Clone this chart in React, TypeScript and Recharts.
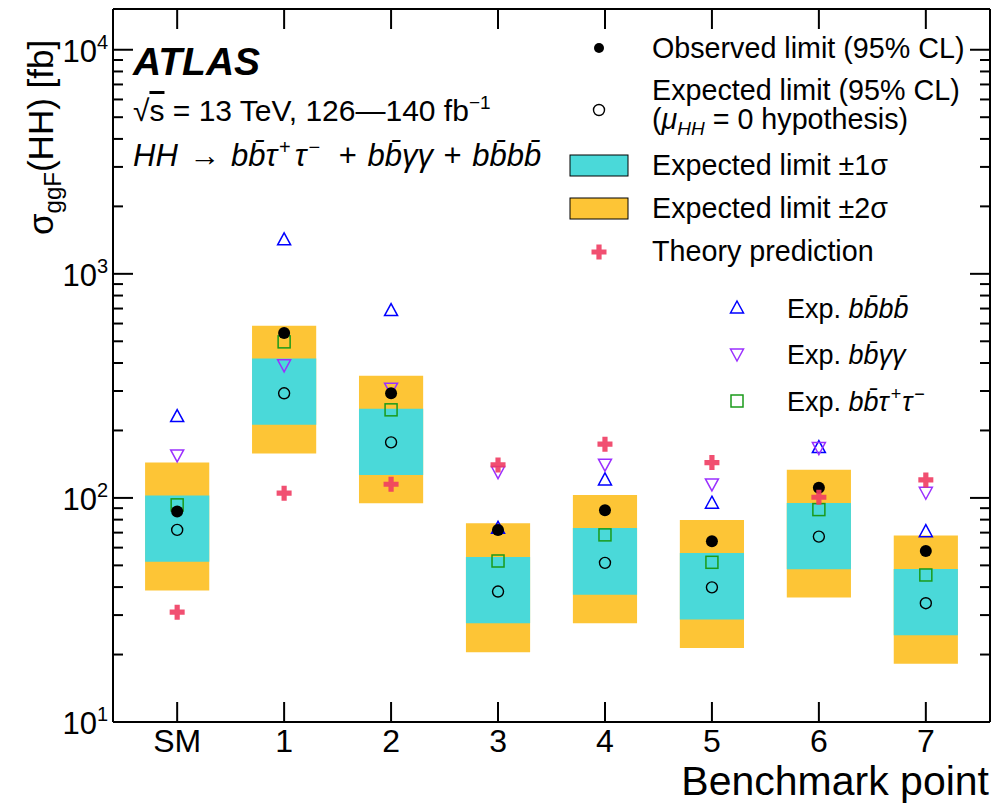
import React from 'react';
import { ComposedChart, Scatter, XAxis, YAxis, ReferenceArea } from 'recharts';

const categories = ['SM', '1', '2', '3', '4', '5', '6', '7'];
const xPositions = [0, 1, 2, 3, 4, 5, 6, 7];
const observed = [87, 544, 293, 72, 88, 64, 111, 58];
const expected = [72, 293, 177, 38.2, 51.3, 39.9, 67.2, 33.9];
const band1Lo = [51.9, 212, 126.6, 27.6, 37.0, 28.7, 48.0, 24.4];
const band1Hi = [102.4, 419, 249.7, 54.5, 73.5, 56.8, 95.0, 48.2];
const band2Lo = [38.6, 157.7, 94.7, 20.5, 27.6, 21.4, 35.9, 18.2];
const band2Hi = [143.8, 586, 350.5, 77.1, 103.1, 79.8, 133.4, 67.9];
const expBBBB = [230.6, 1418, 685.8, 73.2, 120.3, 94.7, 167.7, 70.7];
const expBBYY = [155.6, 392.5, 308.8, 131.1, 141.4, 115.5, 167.7, 106.0];
const expBBTT = [93.1, 497, 247.2, 52.3, 68.4, 51.6, 88.7, 45.3];
const theory = [30.9, 105, 115.1, 140.4, 173.7, 143.8, 100.7, 120.3];

const yTicks = [
  10, 20, 30, 40, 50, 60, 70, 80, 90,
  100, 200, 300, 400, 500, 600, 700, 800, 900,
  1000, 2000, 3000, 4000, 5000, 6000, 7000, 8000, 9000,
  10000,
];
const yMajorTicks = [10, 100, 1000, 10000];
const yExponents = ['1', '2', '3', '4'];

const FONT = '"Liberation Sans", Arial, Helvetica, sans-serif';
const CYAN = '#4ad9d9';
const YELLOW = '#fdc536';
const RED = '#f03c62';
const BLUE = '#0000ff';
const PURPLE = '#9b30ff';
const GREEN = '#1a9a1a';

const toPoints = (vals: number[]) => vals.map((v, i) => ({ x: xPositions[i], y: v }));

const TriUp = ({ cx, cy, color = BLUE }: any) => (
  <path d={`M${cx},${cy - 7} L${cx + 6.5},${cy + 5} L${cx - 6.5},${cy + 5} Z`} fill="none" stroke={color} strokeWidth={1.5} />
);
const TriDown = ({ cx, cy, color = PURPLE }: any) => (
  <path d={`M${cx},${cy + 7} L${cx + 6.5},${cy - 5} L${cx - 6.5},${cy - 5} Z`} fill="none" stroke={color} strokeWidth={1.5} />
);
const Sq = ({ cx, cy, color = GREEN }: any) => (
  <rect x={cx - 6} y={cy - 6} width={12} height={12} fill="none" stroke={color} strokeWidth={1.5} />
);
const OpenC = ({ cx, cy }: any) => (
  <circle cx={cx} cy={cy} r={5.5} fill="none" stroke="#000" strokeWidth={1.4} />
);
const FullC = ({ cx, cy, r = 6 }: any) => <circle cx={cx} cy={cy} r={r} fill="#000" />;
const Plus = ({ cx, cy, s = 7.5, t = 2.6 }: any) => (
  <path
    d={`M${cx - t},${cy - s} H${cx + t} V${cy - t} H${cx + s} V${cy + t} H${cx + t} V${cy + s} H${cx - t} V${cy + t} H${cx - s} V${cy - t} H${cx - t} Z`}
    fill={RED}
    fillOpacity={0.9}
  />
);

const BottomTick = (p: any) => {
  const { x, y, payload } = p;
  return (
    <g>
      <line x1={x} x2={x} y1={y - 8} y2={y - 28} stroke="#000" strokeWidth={2} />
      <text x={x} y={y + 22} textAnchor="middle" fontSize={32} fontFamily={FONT} fill="#000">
        {categories[payload.value]}
      </text>
    </g>
  );
};
const TopTick = (p: any) => {
  const { x, y } = p;
  return <line x1={x} x2={x} y1={y + 8} y2={y + 28} stroke="#000" strokeWidth={2} />;
};
const LeftTick = (p: any) => {
  const { x, y, payload } = p;
  const idx = yMajorTicks.indexOf(payload.value);
  const major = idx >= 0;
  return (
    <g>
      <line x1={x + 5} x2={x + 5 + (major ? 20 : 10)} y1={y} y2={y} stroke="#000" strokeWidth={2} />
      {major && (
        <text x={x} y={y + 12} textAnchor="end" fontSize={31} fontFamily={FONT} fill="#000">
          10<tspan fontSize={20} dy={-13}>{yExponents[idx]}</tspan>
        </text>
      )}
    </g>
  );
};
const RightTick = (p: any) => {
  const { x, y, payload } = p;
  const major = yMajorTicks.indexOf(payload.value) >= 0;
  return <line x1={x - 5} x2={x - 5 - (major ? 20 : 10)} y1={y} y2={y} stroke="#000" strokeWidth={2} />;
};

const axisLine = { stroke: '#000', strokeWidth: 2 };

export default function App() {
  return (
    <div style={{ position: 'absolute', left: 0, top: 0, width: 996, height: 806, background: '#fff', overflow: 'hidden' }}>
      <ComposedChart width={996} height={806} margin={{ top: 4, right: 1, bottom: 44, left: 33 }}>
        <XAxis
          xAxisId={0}
          type="number"
          dataKey="x"
          domain={[-0.6, 7.6]}
          allowDataOverflow
          ticks={xPositions}
          interval={0}
          height={40}
          tickSize={0}
          tickMargin={8}
          axisLine={axisLine}
          tickLine={false}
          tick={(p: any) => <BottomTick {...p} />}
        />
        <XAxis
          xAxisId="top"
          orientation="top"
          type="number"
          dataKey="x"
          domain={[-0.6, 7.6]}
          allowDataOverflow
          ticks={xPositions}
          interval={0}
          height={5}
          tickSize={0}
          tickMargin={8}
          axisLine={axisLine}
          tickLine={false}
          tick={(p: any) => <TopTick {...p} />}
        />
        <YAxis
          yAxisId={0}
          type="number"
          dataKey="y"
          scale="log"
          domain={[10, 15200]}
          allowDataOverflow
          ticks={yTicks}
          interval={0}
          width={80}
          tickSize={0}
          tickMargin={5}
          axisLine={axisLine}
          tickLine={false}
          tick={(p: any) => <LeftTick {...p} />}
        />
        <YAxis
          yAxisId="right"
          orientation="right"
          type="number"
          dataKey="y"
          scale="log"
          domain={[10, 15200]}
          allowDataOverflow
          ticks={yTicks}
          interval={0}
          width={5}
          tickSize={0}
          tickMargin={5}
          axisLine={axisLine}
          tickLine={false}
          tick={(p: any) => <RightTick {...p} />}
        />
        {xPositions.map((xv, i) => (
          <ReferenceArea
            key={`b2-${i}`}
            xAxisId={0}
            yAxisId={0}
            x1={xv - 0.3}
            x2={xv + 0.3}
            y1={band2Lo[i]}
            y2={band2Hi[i]}
            fill={YELLOW}
            fillOpacity={1}
            stroke="none"
          />
        ))}
        {xPositions.map((xv, i) => (
          <ReferenceArea
            key={`b1-${i}`}
            xAxisId={0}
            yAxisId={0}
            x1={xv - 0.3}
            x2={xv + 0.3}
            y1={band1Lo[i]}
            y2={band1Hi[i]}
            fill={CYAN}
            fillOpacity={1}
            stroke="none"
          />
        ))}
        <Scatter name="bbbb" data={toPoints(expBBBB)} xAxisId={0} yAxisId={0} isAnimationActive={false} shape={(p: any) => <TriUp cx={p.cx} cy={p.cy} />} />
        <Scatter name="bbyy" data={toPoints(expBBYY)} xAxisId={0} yAxisId={0} isAnimationActive={false} shape={(p: any) => <TriDown cx={p.cx} cy={p.cy} />} />
        <Scatter name="bbtt" data={toPoints(expBBTT)} xAxisId={0} yAxisId={0} isAnimationActive={false} shape={(p: any) => <Sq cx={p.cx} cy={p.cy} />} />
        <Scatter name="expected" data={toPoints(expected)} xAxisId={0} yAxisId={0} isAnimationActive={false} shape={(p: any) => <OpenC cx={p.cx} cy={p.cy} />} />
        <Scatter name="observed" data={toPoints(observed)} xAxisId={0} yAxisId={0} isAnimationActive={false} shape={(p: any) => <FullC cx={p.cx} cy={p.cy} />} />
        <Scatter name="theory" data={toPoints(theory)} xAxisId="top" yAxisId="right" isAnimationActive={false} shape={(p: any) => <Plus cx={p.cx} cy={p.cy} />} />
      </ComposedChart>
      <svg width={996} height={806} style={{ position: 'absolute', left: 0, top: 0, pointerEvents: 'none' }} fontFamily={FONT}>
        <text transform="translate(53,235) rotate(-90)" fontSize={35} fill="#000">
          σ<tspan fontSize={24} dy={8}>ggF</tspan>
          <tspan dy={-8}>(HH) [fb]</tspan>
        </text>
        <text x={989} y={795} textAnchor="end" fontSize={41} fill="#000">Benchmark point</text>

        <text x={133} y={75} fontSize={39} fontWeight="bold" fontStyle="italic" fill="#000">ATLAS</text>
        <text x={133} y={121} fontSize={30} fill="#000">
          √<tspan style={{ textDecoration: 'overline' }}>s</tspan> = 13 TeV, 126—140 fb<tspan fontSize={19} dy={-12}>−1</tspan>
        </text>
        <text x={133} y={166} fontSize={31} fill="#000">
          <tspan fontStyle="italic">HH</tspan>
          <tspan dx={3}> → </tspan>
          <tspan fontStyle="italic" dx={2}>bb̄τ</tspan>
          <tspan fontSize={20} dy={-12} dx={2}>+</tspan>
          <tspan dy={12} fontStyle="italic" dx={4}>τ</tspan>
          <tspan fontSize={20} dy={-12} dx={2}>−</tspan>
          <tspan dy={12} dx={10}> + </tspan>
          <tspan fontStyle="italic" dx={2}>bb̄γγ</tspan>
          <tspan dx={2}> + </tspan>
          <tspan fontStyle="italic" dx={2}>bb̄bb̄</tspan>
        </text>

        <FullC cx={599} cy={48} r={5} />
        <text x={652} y={58} fontSize={28.7} fill="#000">Observed limit (95% CL)</text>
        <OpenC cx={599} cy={110} />
        <text x={652} y={100} fontSize={28.7} fill="#000">Expected limit (95% CL)</text>
        <text x={652} y={129} fontSize={28.7} fill="#000">
          (<tspan fontStyle="italic">μ</tspan>
          <tspan fontSize={19} dy={6} fontStyle="italic">HH</tspan>
          <tspan dy={-6}> = 0 hypothesis)</tspan>
        </text>
        <rect x={570} y={155} width={58} height={21} fill={CYAN} stroke="#000" strokeWidth={1} />
        <text x={652} y={175} fontSize={28.7} fill="#000">Expected limit ±1σ</text>
        <rect x={570} y={198} width={58} height={21} fill={YELLOW} stroke="#000" strokeWidth={1} />
        <text x={652} y={218} fontSize={28.7} fill="#000">Expected limit ±2σ</text>
        <Plus cx={599} cy={252} />
        <text x={652} y={261} fontSize={28.7} fill="#000">Theory prediction</text>

        <TriUp cx={737} cy={308} />
        <text x={787} y={318} fontSize={27} fill="#000">
          Exp. <tspan fontStyle="italic">bb̄bb̄</tspan>
        </text>
        <TriDown cx={737} cy={354} />
        <text x={787} y={364} fontSize={27} fill="#000">
          Exp. <tspan fontStyle="italic">bb̄γγ</tspan>
        </text>
        <Sq cx={737} cy={401} />
        <text x={787} y={411} fontSize={27} fill="#000">
          Exp. <tspan fontStyle="italic">bb̄τ</tspan>
          <tspan fontSize={18} dy={-11} dx={2}>+</tspan>
          <tspan dy={11} fontStyle="italic" dx={1}>τ</tspan>
          <tspan fontSize={18} dy={-11} dx={2}>−</tspan>
        </text>
      </svg>
    </div>
  );
}
